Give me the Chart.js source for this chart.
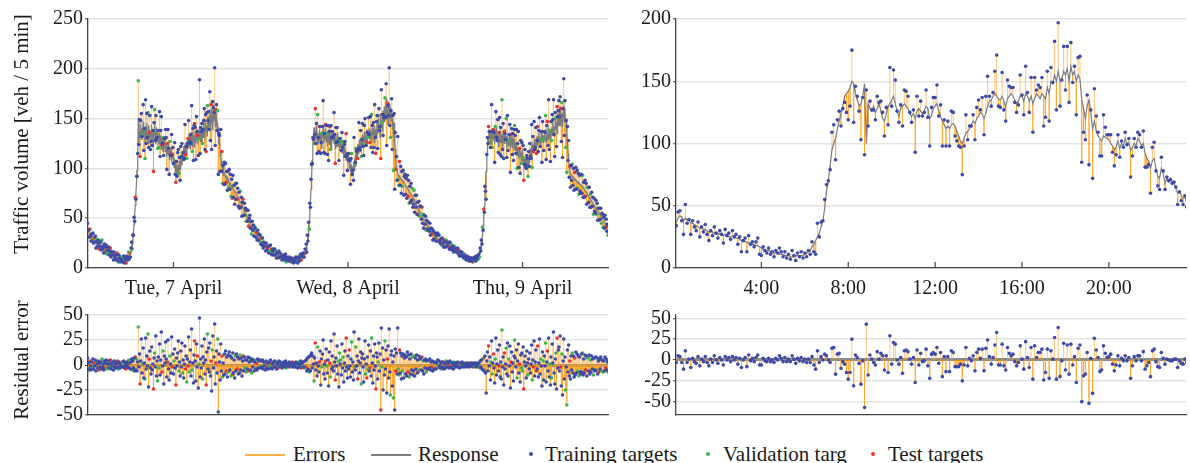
<!DOCTYPE html>
<html>
<head>
<meta charset="utf-8">
<script src="https://cdn.jsdelivr.net/npm/chart.js@4.4.0/dist/chart.umd.min.js"></script>
<style>
  body { margin: 0; width: 1190px; height: 463px; overflow: hidden; position: relative; background: #fff; font-family: "Liberation Serif", serif; color: #1a1a1a; }
  canvas { position: absolute; }
  .ytitle { position: absolute; font-size: 21px; white-space: nowrap; transform: translate(-50%, -50%) rotate(-90deg); }
  .lg { position: absolute; top: 442px; font-size: 21px; line-height: 24px; white-space: nowrap; }
  .lgline { position: absolute; top: 454px; width: 40px; height: 2px; }
  .lgdot { position: absolute; top: 452px; width: 4px; height: 4px; border-radius: 50%; }
</style>
</head>
<body>
<canvas id="tl" width="612" height="300" style="left:0;top:0"></canvas>
<canvas id="tr" width="570" height="300" style="left:620px;top:0"></canvas>
<canvas id="bl" width="612" height="135" style="left:0;top:300px"></canvas>
<canvas id="br" width="570" height="135" style="left:620px;top:300px"></canvas>

<div class="ytitle" style="left:21px;top:134px">Traffic volume [veh / 5 min]</div>
<div class="ytitle" style="left:21px;top:360px">Residual error</div>

<div class="lgline" style="left:245px;background:#ffb042"></div>
<div class="lg" style="left:293px">Errors</div>
<div class="lgline" style="left:371px;background:#808080"></div>
<div class="lg" style="left:418px">Response</div>
<div class="lgdot" style="left:529px;background:#3d4ba6"></div>
<div class="lg" style="left:545px">Training targets</div>
<div class="lgdot" style="left:706px;background:#3fb34f"></div>
<div class="lg" style="left:723px">Validation targ</div>
<div class="lgdot" style="left:871px;background:#e8342c"></div>
<div class="lg" style="left:888px">Test targets</div>

<script>
// tick labels
const dayTicks = [12, 36, 60];
const dayLabels = ['Tue, 7 April', 'Wed, 8 April', 'Thu, 9 April'];
const hourTicks = [4, 8, 12, 16, 20];
const hourLabels = ['4:00', '8:00', '12:00', '16:00', '20:00'];
const volumeTicksLeft = [0, 50, 100, 150, 200, 250];
const volumeTicksRight = [0, 50, 100, 150, 200];
const errorTicks = [-50, -25, 0, 25, 50];

// Tue-Thu, one value per 5 minutes (one row per hour)
const leftResponse = [
  41,39,38,37,36,35,35,33,32,31,30,29,
  29,28,27,27,26,26,25,25,24,24,23,23,
  23,22,22,21,21,20,20,19,19,18,18,17,
  17,17,16,16,15,15,14,14,13,13,12,12,
  12,11,11,11,10,10,10,9,9,9,9,8,
  8,8,8,8,8,9,9,9,10,10,11,12,
  13,15,17,20,24,29,36,44,53,63,74,86,
  98,112,150,126,138,131,144,129,140,133,147,131,
  138,124,142,129,146,132,125,143,130,139,122,136,
  144,128,137,121,139,147,130,124,141,127,136,130,
  124,136,122,133,119,131,126,117,132,121,128,116,
  125,111,122,114,124,109,118,112,121,106,116,110,
  114,101,110,97,106,100,93,104,95,101,108,99,
  108,114,103,117,111,122,109,125,118,113,127,119,
  131,120,134,124,119,136,127,122,138,126,133,121,
  137,125,131,139,124,136,129,142,127,135,140,126,
  139,131,146,134,128,149,137,143,132,152,140,146,
  155,139,160,145,152,138,164,148,160,142,157,150,
  146,132,141,124,130,112,118,103,108,97,101,94,
  95,93,91,92,89,90,87,88,86,84,85,83,
  82,80,81,79,78,77,76,75,74,73,72,71,
  70,68,67,66,64,63,62,60,59,57,56,55,
  54,53,51,50,48,47,46,45,43,42,41,40,
  39,38,37,36,35,34,33,32,31,30,29,28,
  27,26,25,25,24,23,23,22,22,21,21,20,
  20,19,19,18,18,17,17,17,16,16,15,15,
  15,14,14,14,13,13,13,12,12,12,11,11,
  11,11,10,10,10,10,9,9,9,9,9,8,
  8,8,8,8,7,7,7,7,7,8,8,8,
  8,8,9,9,9,10,10,11,11,12,12,13,
  14,15,17,19,22,26,31,38,46,56,67,79,
  92,108,122,128,141,127,138,130,143,126,136,132,
  124,139,128,135,120,137,131,143,125,134,129,140,
  127,136,122,138,129,124,140,131,119,135,128,133,
  138,125,131,120,134,127,122,136,124,130,118,129,
  121,128,115,124,119,110,122,113,118,108,115,111,
  106,113,100,109,96,104,92,101,95,103,98,107,
  111,102,118,110,124,115,120,129,117,125,131,122,
  134,124,130,137,126,133,122,139,128,135,131,140,
  129,138,132,127,141,134,137,126,143,132,139,135,
  145,134,150,138,144,131,155,142,148,137,158,146,
  162,147,155,170,151,159,144,166,165,150,161,148,
  156,140,150,131,146,124,120,105,100,97,95,93,
  93,92,91,90,89,88,88,87,86,85,84,83,
  82,81,80,79,78,77,76,75,74,73,72,71,
  70,69,67,66,65,63,62,61,60,58,57,56,
  55,54,53,51,50,49,48,47,46,45,44,43,
  42,41,40,39,38,37,36,35,34,34,33,32,
  32,31,31,30,30,29,29,28,28,27,27,27,
  26,26,25,25,25,24,24,24,23,23,23,22,
  22,22,21,21,20,20,20,19,19,18,18,18,
  17,17,16,16,15,15,14,14,13,13,12,12,
  12,11,11,10,10,10,9,9,9,9,8,8,
  8,8,8,8,8,9,9,9,10,10,11,11,
  12,14,16,19,23,28,35,43,52,62,73,85,
  97,110,118,131,123,138,129,136,124,140,130,135,
  128,139,124,136,130,141,127,134,122,137,131,126,
  138,126,134,121,137,130,125,139,128,133,120,131,
  129,122,135,125,119,131,127,121,133,124,130,118,
  126,117,124,113,121,116,109,119,112,118,108,114,
  117,105,112,101,110,104,113,99,108,102,111,106,
  113,120,109,124,116,127,119,123,130,118,126,121,
  132,123,129,136,125,131,122,138,127,134,126,133,
  128,137,131,126,140,133,129,142,131,137,127,139,
  141,133,147,136,142,131,150,139,146,135,155,143,
  150,158,143,162,148,155,141,156,164,147,160,146,
  150,136,127,115,108,102,98,95,94,93,92,91,
  91,90,89,89,88,87,87,86,86,85,85,84,
  84,83,82,81,81,80,79,78,77,76,75,74,
  73,72,71,70,69,68,67,66,65,64,63,62,
  61,60,59,58,57,56,55,54,53,52,51,50,
  49,48,47,46,45,44,43,42,41,40,39,38
];
const leftErrors = [
  5,-3,7,-6,2,-4,4,-1,-5,3,-2,6,
  -4,2,-1,5,-6,3,1,-3,4,-5,2,-2,
  3,-4,6,-2,1,-5,4,-3,2,5,-4,1,
  -2,4,-3,1,5,-4,2,-1,3,-5,4,-2,
  1,-3,2,4,-2,-4,3,1,-3,2,-1,3,
  -2,1,4,-3,2,-1,-4,3,1,-2,5,-3,
  2,-4,3,6,-5,4,-3,7,-6,8,-5,6,
  -6,3,38,-2,11,-19,4,26,-8,1,17,-13,
  2,-14,27,-4,9,-1,31,-22,6,14,-3,-9,
  18,-5,1,-24,7,12,-2,29,-11,4,-16,8,
  -3,21,-10,5,33,-7,-1,14,-19,9,2,23,
  6,-12,3,25,-4,-15,9,1,-8,28,-2,11,
  -9,4,16,-3,-20,7,-1,12,24,-6,3,-11,
  14,-2,22,-8,5,-13,1,19,-4,9,-17,6,
  -1,28,-7,3,15,-11,36,-5,2,-18,10,24,
  4,-16,21,-2,9,-23,1,47,-12,6,-3,19,
  -14,8,2,26,-9,5,-20,13,31,-4,17,-7,
  22,-11,4,-26,15,29,-3,8,41,-19,2,14,
  -8,26,-47,11,3,-15,21,-6,9,-12,2,-10,
  11,-9,14,-6,8,-12,10,-7,13,-5,9,-11,
  7,-10,12,-8,5,-13,9,-6,11,-4,8,-9,
  6,-8,10,-5,7,-11,4,9,-6,8,-3,5,
  -7,5,-4,8,-6,3,7,-5,4,-8,6,-2,
  4,-6,3,5,-4,2,-5,6,-3,4,-2,5,
  -3,4,-2,5,-4,3,-1,2,-5,4,-3,1,
  2,-4,3,-1,5,-3,2,-4,1,3,-2,4,
  -2,3,-4,1,2,-3,4,-1,3,-2,1,-3,
  2,-1,3,-2,1,4,-3,2,-1,1,-2,3,
  -1,2,-2,1,3,-1,-2,2,1,-2,3,-1,
  2,-3,1,3,-2,1,4,-3,2,-1,3,-2,
  -3,4,-2,5,-6,7,-4,8,-7,9,-6,10,
  12,-3,9,1,-16,7,22,-5,2,-11,18,-1,
  -7,3,14,-20,6,-2,11,25,-9,1,-14,4,
  16,-1,-8,5,-21,13,2,-12,24,-4,9,-2,
  -6,31,3,-15,7,-1,19,-9,4,-22,12,1,
  5,-10,21,-3,8,-17,2,14,-6,27,-2,-13,
  9,-4,15,-1,-12,6,23,-7,3,-15,33,-2,
  -5,18,-1,9,-14,4,26,-8,2,13,-19,7,
  11,-2,-17,6,24,-9,1,-13,8,-4,20,-6,
  -3,14,-11,27,2,-18,9,-5,21,-1,-24,12,
  8,-14,3,22,-6,11,-45,37,-2,17,-25,5,
  -10,24,-4,15,-28,6,19,-13,36,-7,-30,10,
  14,-21,3,-33,9,-45,16,-6,12,-9,37,-4,
  -10,15,-8,12,-14,9,-6,11,-13,7,10,-9,
  8,-11,13,-7,10,-12,6,-9,11,-5,8,-10,
  -6,9,-11,7,-4,10,-8,5,-7,9,-5,6,
  7,-5,8,-6,4,-9,5,-3,6,-7,4,-4,
  -4,5,-3,6,-5,3,-2,4,-6,3,-4,2,
  3,-4,2,-3,5,-2,4,-1,-3,2,-4,3,
  -2,3,-4,2,1,-3,4,-2,3,-1,2,-3,
  4,-2,3,-3,1,2,-4,3,-1,2,-2,1,
  -1,3,-2,2,-3,1,2,-2,3,-1,1,-2,
  2,-1,1,-2,2,1,-1,2,-2,1,-1,2,
  -1,2,-2,1,-1,2,1,-2,2,-1,1,-2,
  2,-3,4,-2,5,-4,6,-5,7,-6,9,-8,
  -28,4,13,-6,19,-1,8,-15,3,24,-9,2,
  11,-3,-18,6,27,-10,1,15,-6,-1,20,-12,
  3,-14,35,-2,8,-20,12,-4,1,17,-9,22,
  -11,6,-1,19,-23,3,13,-7,2,-16,9,25,
  7,-2,15,-13,4,21,-8,1,-17,10,-3,12,
  -6,18,-24,3,9,-1,-13,14,2,-10,6,-4,
  12,-8,1,20,-15,5,-2,24,-11,3,15,-6,
  -4,19,-12,2,26,-9,6,-1,-21,13,4,-15,
  9,-1,22,-17,3,14,-6,27,-12,1,-20,8,
  -13,21,2,33,-8,-19,6,12,-24,27,-3,15,
  18,-6,29,-2,-21,11,-30,4,26,-14,8,-25,
  -2,-40,15,-7,20,-11,4,-14,9,-5,12,-8,
  9,-12,7,-10,13,-8,11,-6,9,-11,8,-7,
  -9,11,-7,12,-10,6,-8,10,-5,9,-11,7,
  8,-6,10,-9,5,-7,9,-4,6,-10,7,-5,
  -6,8,-5,7,-9,4,-7,6,-4,8,-6,5,
  5,-7,4,-6,8,-3,6,-5,3,-7,4,-6
];
// 0 = training, 1 = validation, 2 = test
const leftSplit = [
  '000100200010','020001000200','001000020010','100020001000','000201000102','010000200010',
  '200010000201','001002000100','010000102000','000201000010','100002010000','002000100020',
  '010020000100','000100002010','201000010002','000020100000','100000201000','002010000020',
  '010000002100','000200010001','020000100200','001000020010','100020000100','000102000010',
  '020000010002','000100200000','010002000100','200000100020','001020000001','000100020100',
  '102000001000','000010200010','020001000002','010000210000','000200001010','100010000200',
  '002000100001','010020000010','000001020100','200100000020','001000201000','010002000010',
  '000100020001','120000100000','000201000010','010000002010','002010000100','100000200001',
  '000102000010','020000100200','001000010002','000201000100','100000020010','002010000001',
  '010000102000','000020001010','200100000200','001000200100','010002000001','000100020010',
  '102000000100','000010200002','020000100010','001002000100','100000010200','000201000001',
  '010000200010','002000010100','000100002001','200010000100','001000200010','010002000100'
].join('');

// single day, one value per 5 minutes
const rightTargets = [
  32,34,45,46,38,27,51,36,39,27,38,33, 30,37,25,33,29,35,27,22,30,26,33,28,
  24,30,27,20,31,26,28,23,30,25,27,19, 25,13,22,24,13,26,19,21,17,21,24,11,
  10,17,14,12,16,11,13,9,14,12,16,13, 9,13,8,11,7,14,10,6,12,9,13,8,
  12,9,14,11,21,13,11,36,25,37,38,55, 67,70,79,109,115,87,119,126,114,128,133,125,
  119,130,175,117,146,138,126,103,137,91,143,114, 134,127,127,119,138,133,134,125,106,129,115,161,
  130,159,151,126,117,131,114,143,142,138,125,117, 127,93,138,122,134,122,125,143,121,98,129,137,
  137,147,122,131,98,119,98,118,98,126,125,106, 102,98,97,75,98,123,103,114,114,123,103,129,
  135,127,137,107,138,154,138,130,141,158,171,130, 129,157,127,118,151,146,145,145,133,125,131,155,
  139,123,162,141,125,153,109,153,143,147,145,153, 114,121,158,118,161,149,182,127,197,130,151,178,
  143,178,133,181,149,162,123,169,170,85,109,103, 139,83,127,72,144,122,109,90,90,123,113,107,
  107,107,93,82,91,107,89,102,97,109,99,104, 73,90,104,97,109,107,97,110,81,81,83,60,
  97,101,78,66,63,89,78,63,73,70,71,68, 69,65,51,61,54,51,58,49
];
const rightResponse = [
  36,37,40,42,41,38,40,39,38,36,36,35, 34,33,32,32,31,31,30,29,29,29,28,28,
  28,27,27,26,27,26,25,25,26,25,24,24, 23,22,22,21,21,20,20,19,19,18,18,17,
  16,15,15,14,14,13,13,12,12,12,11,11, 11,10,10,10,9,9,9,10,10,10,10,10,
  11,12,13,14,17,19,22,25,28,33,38,48, 62,70,82,95,100,104,112,118,124,130,138,140,
  142,145,150,148,140,135,130,132,138,148,100,132, 128,126,130,125,128,132,126,120,118,124,130,132,
  135,138,132,126,122,128,130,132,130,128,124,122, 124,120,126,128,126,124,126,130,128,120,122,128,
  130,132,126,122,118,115,112,114,112,115,116,114, 110,106,102,100,104,108,110,112,115,118,116,120,
  122,125,124,120,124,130,134,135,138,140,138,136, 135,138,134,130,136,138,140,138,135,132,134,138,
  138,134,140,138,134,138,132,136,140,138,136,140, 138,136,145,140,150,148,155,150,158,150,152,158,
  155,160,150,162,155,158,150,155,152,135,128,120, 130,135,125,112,118,110,106,104,102,106,105,104,
  103,100,98,95,97,102,96,100,98,104,100,101, 95,97,100,98,104,102,98,100,92,88,86,80,
  86,88,80,74,72,80,76,68,72,70,72,69, 68,64,60,62,58,56,57,52
];

const COLORS = {
  error: 'rgba(255,160,30,0.6)',
  response: '#7c7c7c',
  split: ['#3d4ba6', '#3fb34f', '#e8342c']
};
const TICK_FONT = { family: 'Liberation Serif', size: 20 };

const toHours = arr => arr.map((_, i) => i * 5 / 60);
const xLeft = toHours(leftResponse);
const xRight = toHours(rightTargets);
const leftTargets = leftResponse.map((r, i) => r + leftErrors[i]);
const rightErrors = rightTargets.map((t, i) => t - rightResponse[i]);
const rightSplit = rightTargets.map(() => '0').join('');

function stemData(xs, from, to) {
  const out = [];
  xs.forEach((x, i) => {
    out.push({ x, y: from ? from[i] : 0 }, { x, y: to[i] }, { x, y: null });
  });
  return out;
}

function pointSets(xs, ys, split) {
  return ['0', '1', '2'].map((code, k) => ({
    data: xs.map((x, i) => ({ x, y: ys[i] })).filter((p, i) => split[i] === code),
    backgroundColor: COLORS.split[k],
    pointRadius: 1.8,
    pointBorderWidth: 0,
    showLine: false,
    order: 0
  }));
}

const innerTicks = {
  id: 'innerTicks',
  afterDraw(chart) {
    const sx = chart.scales.x;
    if (!sx.options.ticks.display) return;
    const ctx = chart.ctx;
    ctx.save();
    ctx.strokeStyle = '#444';
    ctx.lineWidth = 1.2;
    sx.ticks.forEach(t => {
      const px = sx.getPixelForValue(t.value);
      ctx.beginPath();
      ctx.moveTo(px, sx.top);
      ctx.lineTo(px, sx.top - 6);
      ctx.stroke();
    });
    ctx.restore();
  }
};

function makeChart(id, o) {
  const isZero = c => o.zeroLine && c.tick && c.tick.value === 0;
  return new Chart(document.getElementById(id), {
    type: 'scatter',
    data: { datasets: o.datasets },
    options: {
      responsive: false,
      animation: false,
      events: [],
      layout: { padding: { top: o.top, right: o.right, left: 0, bottom: 0 } },
      plugins: { legend: { display: false }, tooltip: { enabled: false } },
      scales: {
        x: {
          type: 'linear', min: o.xMin, max: o.xMax,
          afterBuildTicks: s => { s.ticks = o.xTicks.map(v => ({ value: v })); },
          afterFit: s => { s.height = o.xHeight; },
          ticks: {
            display: !!o.xLabels, autoSkip: false, maxRotation: 0, padding: 9,
            font: TICK_FONT, color: '#1a1a1a',
            callback: (v, i) => (o.xLabels ? o.xLabels[i] : '')
          },
          grid: { color: 'rgba(0,0,0,0)', drawTicks: false },
          border: { color: '#444', width: 1.3 }
        },
        y: {
          type: 'linear', min: o.yMin, max: o.yMax,
          afterBuildTicks: s => { s.ticks = o.yTicks.map(v => ({ value: v })); },
          afterFit: s => { s.width = o.yWidth; },
          ticks: { padding: 2, autoSkip: false, font: TICK_FONT, color: '#1a1a1a' },
          grid: {
            color: c => (isZero(c) ? '#8a8a8a' : '#e3e3e3'),
            lineWidth: c => (isZero(c) ? 3 : 1.5),
            tickColor: '#444', tickLength: 3, tickWidth: 1.2
          },
          border: { color: '#444', width: 1.3 }
        }
      }
    },
    plugins: [innerTicks]
  });
}

function volumeSets(xs, targets, response, split) {
  return [
    { data: stemData(xs, response, targets), borderColor: COLORS.error, borderWidth: 1, pointRadius: 0, showLine: true, spanGaps: false, order: 2 },
    { data: xs.map((x, i) => ({ x, y: response[i] })), borderColor: COLORS.response, borderWidth: 1.2, pointRadius: 0, showLine: true, order: 1 }
  ].concat(pointSets(xs, targets, split));
}

function errorSets(xs, errors, split) {
  return [
    { data: stemData(xs, null, errors), borderColor: COLORS.error, borderWidth: 1, pointRadius: 0, showLine: true, spanGaps: false, order: 2 }
  ].concat(pointSets(xs, errors, split));
}

makeChart('tl', {
  datasets: volumeSets(xLeft, leftTargets, leftResponse, leftSplit),
  xMin: 0.25, xMax: 71.75, xTicks: dayTicks, xLabels: dayLabels, xHeight: 32,
  yMin: 0, yMax: 250, yTicks: volumeTicksLeft, yWidth: 88, top: 19, right: 4
});
makeChart('tr', {
  datasets: volumeSets(xRight, rightTargets, rightResponse, rightSplit),
  xMin: 0.07, xMax: 23.55, xTicks: hourTicks, xLabels: hourLabels, xHeight: 32,
  yMin: 0, yMax: 200, yTicks: volumeTicksRight, yWidth: 56, top: 19, right: 0
});
makeChart('bl', {
  datasets: errorSets(xLeft, leftErrors, leftSplit),
  xMin: 0.25, xMax: 71.75, xTicks: dayTicks, xLabels: null, xHeight: 20,
  yMin: -50, yMax: 50, yTicks: errorTicks, yWidth: 88, top: 15, right: 4, zeroLine: true
});
makeChart('br', {
  datasets: errorSets(xRight, rightErrors, rightSplit),
  xMin: 0.07, xMax: 23.55, xTicks: hourTicks, xLabels: null, xHeight: 20,
  yMin: -66, yMax: 54, yTicks: errorTicks, yWidth: 56, top: 15, right: 0, zeroLine: true
});
</script>
</body>
</html>
